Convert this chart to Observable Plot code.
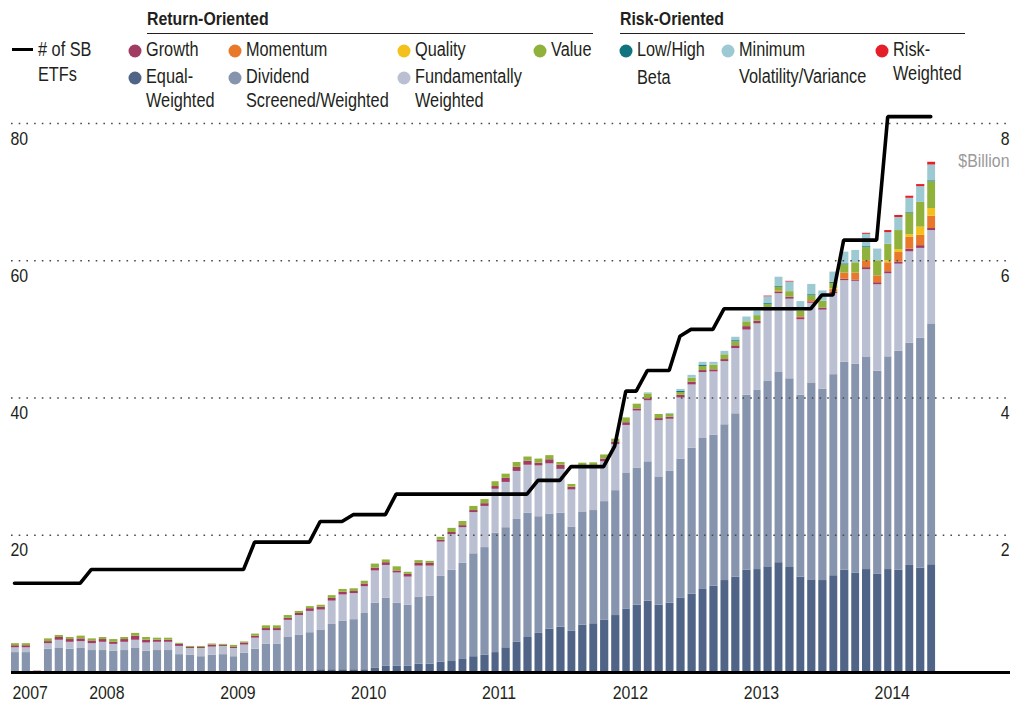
<!DOCTYPE html>
<html>
<head>
<meta charset="utf-8">
<script src="https://cdn.jsdelivr.net/npm/d3@7"></script>
<script src="https://cdn.jsdelivr.net/npm/@observablehq/plot@0.6"></script>
<style>
  html, body { margin: 0; padding: 0; background: #fff; }
  body { font-family: "Liberation Sans", Arial, sans-serif; color: #231f20; }
  #wrap { position: relative; width: 1025px; height: 709px; overflow: hidden; }
  #chart { position: absolute; left: 0; top: 0; }
  .lg { position: absolute; font-size: 19.5px; line-height: 1; white-space: nowrap; transform-origin: 0 50%; transform: translateY(-50%) scaleX(0.835); color: #231f20; }
  .hd { position: absolute; font-size: 19px; font-weight: bold; line-height: 1; white-space: nowrap; transform-origin: 0 50%; transform: translateY(-50%) scaleX(0.835); color: #231f20; }
  .dot { position: absolute; width: 13px; height: 13px; border-radius: 50%; transform: translate(-50%, -50%); }
  .rule { position: absolute; height: 1.3px; background: #231f20; }
</style>
</head>
<body>
<div id="wrap"><div id="chart"></div></div>
<script>
// ---------- data (values in left-axis units) ----------
const startMonth = new Date(Date.UTC(2007, 5, 1));   // June 2007
const endMonth   = new Date(Date.UTC(2014, 6, 1));   // after June 2014

const seriesNames = ["Equal-Weighted", "Dividend Screened/Weighted", "Fundamentally Weighted",
  "Growth", "Momentum", "Quality", "Value", "Low/High Beta", "Minimum Volatility/Variance", "Risk-Weighted"];
const seriesColors = ["#4f6486", "#8794ae", "#bac0d2", "#a23b62", "#e8792b", "#f4c01b", "#90b23c",
  "#0f7480", "#9dc9d2", "#e41f2a"];

const equalWeighted = [0,0,0,0,0,0,0,0,0,0, 0,0,0,0,0,0,0,0,0,0, 0,0,0,0,0,0,0,0,0.4,0.4,
  0.4,0.4,0.4,0.6,0.9,0.9,0.9,1.2,1.2,1.5, 1.6,1.9,2.3,2.5,2.9,3.6,4.4,5.1,5.7,6.3,
  6.6,6.0,6.9,7.1,7.6,8.3,9.2,9.8,10.4,9.8, 10.1,10.8,11.4,12.1,12.6,13.4,13.9,14.9,15.0,15.4,
  16.0,15.3,13.9,13.5,13.4,14.1,14.9,14.5,15.0,14.3, 15.0,14.9,15.6,15.2,15.7];
const dividend = [2.9,2.9,0,3.4,3.5,3.4,3.5,3.2,3.2,3.1, 3.2,3.5,3.1,3.2,3.2,2.6,2.5,2.3,2.5,2.6,
  2.3,2.8,3.4,4.1,4.1,5.1,5.4,5.8,5.8,6.6, 7.1,7.3,8.2,9.5,9.9,9.2,8.9,9.8,9.9,12.5,
  13.3,14.0,15.0,15.7,17.4,17.5,17.9,18.1,17.0,16.8, 16.6,15.2,16.5,16.5,17.3,18.2,19.8,20.0,20.3,18.7,
  19.2,20.3,21.3,22.0,22.0,22.7,23.8,25.5,26.1,27.0, 27.8,27.5,26.5,28.7,27.9,29.3,30.3,30.4,30.9,29.6,
  31.0,31.9,32.4,33.5,35.1];
const fundamentally = [0.7,0.7,0,0.8,1.2,1.0,1.0,1.0,1.2,1.0, 1.2,1.2,1.2,1.2,1.2,1.2,1.0,1.2,1.2,1.2,
  1.2,1.2,1.6,2.0,2.0,2.5,2.9,3.1,2.9,3.4, 3.8,3.8,3.9,4.7,4.8,4.4,4.1,4.5,4.4,5.0,
  5.2,5.2,6.0,6.0,6.4,6.6,7.0,7.0,7.4,7.3, 6.4,5.4,6.4,6.4,5.8,6.7,7.0,8.3,8.9,8.2,
  7.6,8.9,9.2,9.6,9.2,9.2,9.5,9.5,9.7,10.3, 11.4,11.6,11.0,11.6,11.5,11.8,11.9,12.1,12.8,12.6,
  12.1,12.7,13.3,13.1,13.6];
const growth = [0.3,0.3,0.2,0.3,0.4,0.4,0.4,0.4,0.4,0.3, 0.4,0.6,0.4,0.3,0.3,0.3,0.15,0.15,0.3,0.15,
  0.15,0.3,0.3,0.3,0.3,0.3,0.3,0.4,0.4,0.4, 0.4,0.3,0.4,0.4,0.4,0.3,0.4,0.4,0.4,0.3,
  0.3,0.3,0.3,0.4,0.4,0.6,0.6,0.6,0.4,0.6, 0.6,0.4,0.3,0.15,0.4,0.4,0.4,0.3,0.3,0.3,
  0.3,0.4,0.4,0.3,0.3,0.3,0.4,0.5,0.4,0.3, 0.2,0.3,0.3,0.2,0.3,0.2,0.2,0.2,0.3,0.3,
  0.3,0.3,0.4,0.4,0.3];
const momentum = [0,0,0,0,0,0,0,0,0,0, 0,0,0,0,0,0,0,0,0,0, 0,0,0,0,0,0,0,0,0,0,
  0,0,0,0,0,0,0,0,0,0, 0,0,0,0,0,0,0,0,0,0, 0,0,0,0,0,0,0,0,0,0,
  0,0,0,0,0,0,0,0,0,0, 0.15,0,0.15,0.2,0,0.4,0.9,1.0,1.0,1.0, 1.3,1.4,1.7,1.5,1.8];
const quality = [0,0,0,0,0,0,0,0,0,0, 0,0,0,0,0,0,0,0,0,0, 0,0,0,0,0,0,0,0,0,0,
  0,0,0,0,0,0,0,0,0,0, 0,0,0,0,0,0,0,0,0,0, 0,0,0,0,0,0,0,0,0,0,
  0,0,0,0,0,0,0,0,0,0, 0,0,0,0,0,0.1,0,0,0,0, 0.3,0.4,0.4,1.2,1.1];
const value = [0.3,0.3,0,0.4,0.3,0.3,0.4,0.3,0.3,0.4, 0.3,0.4,0.4,0.3,0.3,0.15,0.15,0.15,0.15,0.15,
  0.3,0.15,0.3,0.4,0.4,0.4,0.3,0.3,0.3,0.4, 0.4,0.4,0.4,0.6,0.4,0.6,0.3,0.4,0.3,0.4,
  0.6,0.6,0.6,0.6,0.7,0.6,0.7,0.6,0.6,0.6, 0.4,0.4,0.4,0.4,0.6,0.4,0.7,0.7,0.7,0.6,
  0.4,0.4,0.6,0.6,0.7,0.7,0.6,0.7,0.8,0.6, 0.6,0.8,0.8,0.7,1.0,0.8,1.2,1.5,1.9,2.2,
  2.4,2.8,3.1,3.6,3.9];
const lowHighBeta = [0,0,0,0,0,0,0,0,0,0, 0,0,0,0,0,0,0,0,0,0, 0,0,0,0,0,0,0,0,0,0,
  0,0,0,0,0,0,0,0,0,0, 0,0,0,0,0,0,0,0,0,0, 0,0,0,0,0,0,0,0,0,0,
  0,0.15,0,0.2,0,0,0.15,0,0,0.15, 0.15,0,0,0.15,0,0.15,0.15,0,0.15,0, 0,0,0.1,0,0.15];
const minVol = [0,0,0,0,0,0,0,0,0,0, 0,0,0,0,0,0,0,0,0,0, 0,0,0,0,0,0,0,0,0,0,
  0,0,0,0,0,0,0,0,0,0, 0,0,0,0,0,0,0,0,0,0, 0,0,0,0,0,0,0,0,0.15,0,
  0.15,0.3,0.4,0.4,0.4,0.5,0.5,0.7,0.7,1.0, 1.3,1.4,1.4,1.5,1.5,1.5,1.7,1.8,1.8,1.7,
  1.7,1.9,2.1,2.3,2.3];
const riskWeighted = [0,0,0,0,0,0,0,0,0,0, 0,0,0,0,0,0,0,0,0,0, 0,0,0,0,0,0,0,0,0,0,
  0,0,0,0,0,0,0,0,0,0, 0,0,0,0,0,0,0,0,0,0, 0,0,0,0,0,0,0,0,0,0,
  0,0,0,0,0,0,0,0,0,0.1, 0,0.1,0,0,0,0,0,0,0.15,0, 0.3,0.3,0.3,0.3,0.4];
const numSBETFs = [13,13,13,13,13,13,13, 15,15,15,15,15,15,15,15,15,15,15,15,15,15,15,
  19,19,19,19,19,19, 22,22,22, 23,23,23,23, 26,26,26,26,26,26,26,26,26,26,26,26,26,
  28,28,28, 30,30,30,30, 33, 41,41, 44,44,44, 49, 50,50,50, 53,53,53,53,53,53,53,53,53,
  55,55, 63,63,63,63, 81,81,81,81,81];

const yearTickDates = [new Date(Date.UTC(2007,5,1)), new Date(Date.UTC(2008,0,1)), new Date(Date.UTC(2009,0,1)),
  new Date(Date.UTC(2010,0,1)), new Date(Date.UTC(2011,0,1)), new Date(Date.UTC(2012,0,1)),
  new Date(Date.UTC(2013,0,1)), new Date(Date.UTC(2014,0,1))];
const yearTickLabels = ["2007","2008","2009","2010","2011","2012","2013","2014"];
const leftTicks = [20, 40, 60, 80];
const leftTickLabels = ["20", "40", "60", "80"];
const rightTickLabels = ["2", "4", "6", "8"];
const rightUnit = "$Billion";

// ---------- build tables ----------
const months = d3.utcMonth.range(startMonth, endMonth);
const seriesValues = [equalWeighted, dividend, fundamentally, growth, momentum, quality, value, lowHighBeta, minVol, riskWeighted];
const rows = [];
seriesNames.forEach((s, j) => seriesValues[j].forEach((v, i) => rows.push({date: months[i], series: s, value: v})));
const countRows = numSBETFs.map((c, i) => ({date: months[i], count: c}));
const yearTicks = yearTickDates.map((d, i) => ({date: d, label: yearTickLabels[i]}));

const fontFamily = '"Liberation Sans", Arial, sans-serif';

const chart = Plot.plot({
  width: 1025,
  height: 709,
  marginTop: 123,
  marginBottom: 37,
  marginLeft: 11,
  marginRight: 15,
  x: {type: "utc", domain: [startMonth, new Date(Date.UTC(2015, 0, 18))], axis: null},
  y: {domain: [0, 80], axis: null},
  color: {domain: seriesNames, range: seriesColors},
  style: {fontFamily, fontSize: "19px", color: "#231f20", background: "transparent", overflow: "visible"},
  marks: [
    Plot.rectY(rows, {x: "date", y: "value", fill: "series", interval: d3.utcMonth, order: seriesNames, insetRight: 2.9}),
    Plot.ruleY(leftTicks, {stroke: "#4a4a4a", strokeWidth: 1.6, strokeDasharray: "1.6,6.1"}),
    Plot.ruleY([0], {stroke: "#000", strokeWidth: 3}),
    Plot.line(countRows, {x: "date", y: "count", stroke: "#000", strokeWidth: 3.6, dx: 3, strokeLinejoin: "miter"}),
    Plot.text(leftTicks, {y: d => d, text: (d, i) => leftTickLabels[i], frameAnchor: "left", lineAnchor: "middle", textAnchor: "start", dy: 15, dx: -1, fill: "#231f20"}),
    Plot.text(leftTicks, {y: d => d, text: (d, i) => rightTickLabels[i], frameAnchor: "right", lineAnchor: "middle", textAnchor: "end", dy: 15, dx: -1, fill: "#231f20"}),
    Plot.text([rightUnit], {y: [leftTicks[3]], text: d => d, frameAnchor: "right", lineAnchor: "middle", textAnchor: "end", dy: 37, dx: -1, fill: "#9a9a9a"}),
    Plot.text(yearTicks, {x: "date", text: "label", frameAnchor: "bottom", lineAnchor: "middle", textAnchor: "start", dy: 20, dx: 1, fill: "#231f20"})
  ]
});
// condense the text glyphs horizontally around each label's own anchor
const isNum = v => v != null && /^-?[\d.]+$/.test(v.trim());
chart.querySelectorAll("text").forEach(t => {
  let tr = t.getAttribute("transform") || "";
  const x = t.getAttribute("x"), y = t.getAttribute("y");
  let tx = 0, ty = 0;
  if (isNum(x)) { tx = +x; t.removeAttribute("x"); }
  if (isNum(y)) { ty = +y; t.removeAttribute("y"); }
  t.setAttribute("transform", `translate(${tx},${ty}) ${tr} scale(0.835,1)`);
});
document.getElementById("chart").appendChild(chart);

// ---------- legend ----------
const wrap = document.getElementById("wrap");
function add(cls, x, y, html, extra) {
  const el = document.createElement("div");
  el.className = cls;
  el.style.left = x + "px";
  el.style.top = y + "px";
  if (html != null) el.textContent = html;
  if (extra) Object.assign(el.style, extra);
  wrap.appendChild(el);
  return el;
}
const groupHeaders = ["Return-Oriented", "Risk-Oriented"];
add("hd", 147, 18, groupHeaders[0]);
add("rule", 147, 32.5, null, {width: "446px"});
add("hd", 620, 18, groupHeaders[1]);
add("rule", 620, 32.5, null, {width: "345px"});

// line key
add("rule", 12, 47.5, null, {width: "21px", height: "3.6px", background: "#000"});
add("lg", 38, 50, "# of SB");
add("lg", 38, 75, "ETFs");

const legendItems = [
  {name: "Growth", lines: ["Growth"], x: 135, y: 50, lineGap: 24},
  {name: "Momentum", lines: ["Momentum"], x: 235, y: 50, lineGap: 24},
  {name: "Quality", lines: ["Quality"], x: 404, y: 50, lineGap: 24},
  {name: "Value", lines: ["Value"], x: 540, y: 50, lineGap: 24},
  {name: "Equal-Weighted", lines: ["Equal-", "Weighted"], x: 135, y: 77, lineGap: 24},
  {name: "Dividend Screened/Weighted", lines: ["Dividend", "Screened/Weighted"], x: 235, y: 77, lineGap: 24},
  {name: "Fundamentally Weighted", lines: ["Fundamentally", "Weighted"], x: 404, y: 77, lineGap: 24},
  {name: "Low/High Beta", lines: ["Low/High", "Beta"], x: 626, y: 50, lineGap: 28},
  {name: "Minimum Volatility/Variance", lines: ["Minimum", "Volatility/Variance"], x: 728, y: 50, lineGap: 27},
  {name: "Risk-Weighted", lines: ["Risk-", "Weighted"], x: 882, y: 50, lineGap: 24}
];
legendItems.forEach(it => {
  const c = seriesColors[seriesNames.indexOf(it.name)];
  add("dot", it.x, it.y + 0.5, null, {background: c});
  it.lines.forEach((t, k) => add("lg", it.x + 10.5, it.y + k * it.lineGap, t));
});
</script>
</body>
</html>
